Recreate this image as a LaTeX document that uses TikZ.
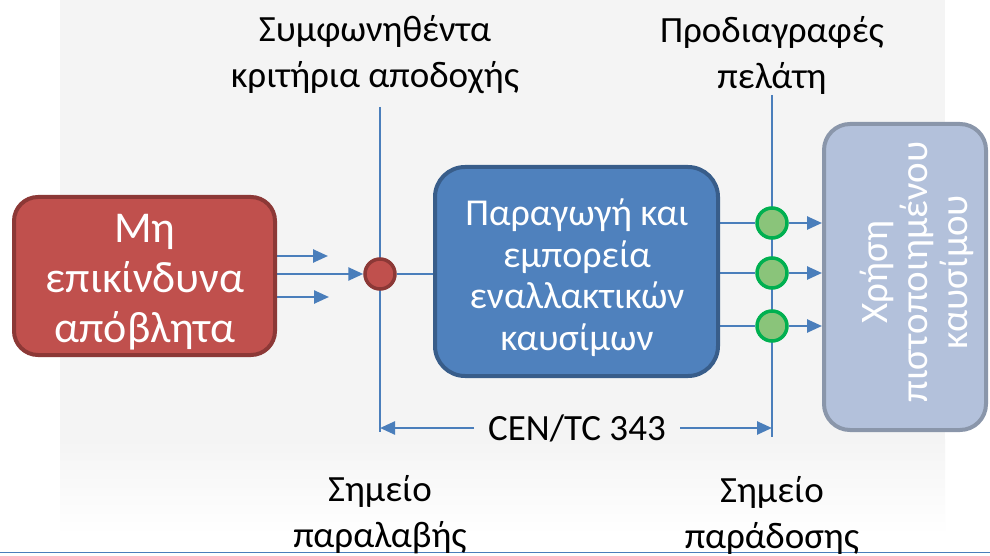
\documentclass[tikz,border=0pt]{standalone}
\usepackage{fontspec}
\setmainfont{Carlito}
\usetikzlibrary{arrows.meta}

\definecolor{redf}{HTML}{C0504D}
\definecolor{redd}{HTML}{8C3836}
\definecolor{bluef}{HTML}{4F81BD}
\definecolor{blued}{HTML}{385D8A}
\definecolor{grayf}{HTML}{B3C1DB}
\definecolor{grayd}{HTML}{8A96AA}
\definecolor{greenf}{HTML}{8AC47A}
\definecolor{greend}{HTML}{00B050}
\definecolor{linec}{HTML}{4A7EBB}
\definecolor{bgray}{HTML}{F4F4F4}

\pgfdeclarelayer{bg}
\pgfdeclarelayer{wires}
\pgfsetlayers{bg,wires,main}

\begin{document}
\begin{tikzpicture}[x=1pt,y=-1pt,
  box/.style={rounded corners=24pt, line width=4pt, inner sep=0pt},
  boxtext/.style={text=white, align=center, inner sep=0pt},
  wire/.style={draw=linec, line width=2.5pt},
  guide/.style={draw=linec, line width=1.5pt},
  arr/.style={wire, -{Triangle[length=15pt,width=13pt]}},
  dot/.style={circle, minimum size=30pt, inner sep=0pt, line width=3.5pt},
  lab/.style={align=center, text=black, inner sep=0pt, font=\fontsize{37}{46}\selectfont}]
\useasboundingbox (0,0) rectangle (990,556);

% page background and footer rule
\begin{pgfonlayer}{bg}
  \fill[white] (0,0) rectangle (990,556);
  \fill[bgray] (60,0) rectangle (945,440);
  \shade[top color=bgray, bottom color=white] (60,439) rectangle (945,535);
  \draw[guide] (0,552.5) -- (990,552.5);
\end{pgfonlayer}

% main blocks
\node[box, fill=redf, draw=redd, minimum width=261pt, minimum height=158pt] (waste) at (144.5,276) {};
\node[boxtext, font=\fontsize{44}{50}\selectfont] (wastelbl) at (145,282) {Μη\\επικίνδυνα\\απόβλητα};
\node[box, fill=bluef, draw=blued, rounded corners=30pt, minimum width=283pt, minimum height=209pt] (prod) at (576.5,271.5) {};
\node[boxtext, font=\fontsize{38}{41.5}\selectfont] (prodlbl) at (577,277.5) {Παραγωγή και\\εμπορεία\\εναλλακτικών\\καυσίμων};
\node[box, fill=grayf, draw=grayd, rounded corners=26pt, minimum width=162pt, minimum height=306pt] (use) at (905,277) {};
\node[boxtext, rotate=90, font=\fontsize{39}{40}\selectfont] (uselbl) at (917,272) {Χρήση\\πιστοποιημένου\\καυσίμου};

% delivery and reception points
\node[dot, fill=redf, draw=redd] (recv) at (380,274) {};
\node[dot, fill=greenf, draw=greend] (g1) at (772,223) {};
\node[dot, fill=greenf, draw=greend] (g2) at (772,273) {};
\node[dot, fill=greenf, draw=greend] (g3) at (772,326) {};

% labels
\node[lab] (crit) at (375,55) {Συμφωνηθέντα\\κριτήρια αποδοχής};
\node[lab] (spec) at (772,55) {Προδιαγραφές\\πελάτη};
\node[lab] (rp) at (380,515) {Σημείο\\παραλαβής};
\node[lab] (dp) at (772,515) {Σημείο\\παράδοσης};
\node[lab, inner xsep=14pt] (cen) at (577,428) {CEN/TC 343};

% guide line ends and short arrow ends
\coordinate (rtop) at (380,107);
\coordinate (rbot) at (380,432);
\coordinate (dtop) at (772,95);
\coordinate (dbot) at (772,437);
\coordinate (s1) at (328,256);
\coordinate (s3) at (329,297);

\begin{pgfonlayer}{wires}
  \draw[guide] (rtop) -- (rbot);
  \draw[guide] (dtop) -- (dbot);
  \draw[arr] (waste.east |- s1) -- (s1);
  \draw[arr] (waste.east |- recv) -- (recv.west);
  \draw[arr] (waste.east |- s3) -- (s3);
  \draw[wire, line width=2pt] (recv) -- (prod.west |- recv);
  \foreach \g in {g1,g2,g3}{
    \draw[wire] (prod.east |- \g) -- (\g);
    \draw[arr] (\g) -- (use.west |- \g);
  }
  \draw[arr] (cen.west) -- (cen.west -| rbot);
  \draw[arr] (cen.east) -- (cen.east -| dbot);
\end{pgfonlayer}
\end{tikzpicture}
\end{document}
